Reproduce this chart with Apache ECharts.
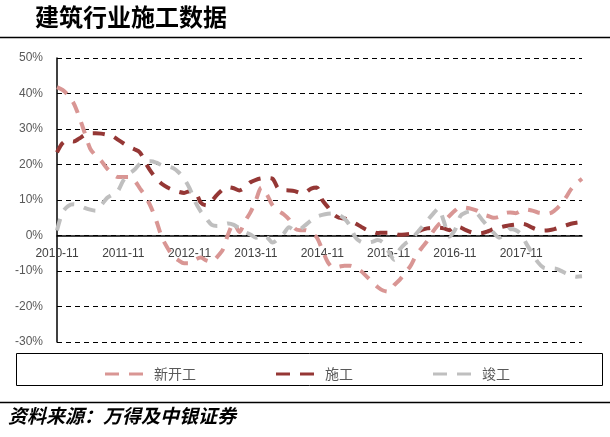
<!DOCTYPE html>
<html><head><meta charset="utf-8">
<script src="https://cdn.jsdelivr.net/npm/echarts@6/dist/echarts.min.js"></script>
<style>html,body{margin:0;padding:0;background:#fff}#c{width:610px;height:437px}</style>
</head><body><div id="c"></div>
<script>
const categories = [
  '2010-11','2010-12',
  '2011-01','2011-02','2011-03','2011-04','2011-05','2011-06','2011-07','2011-08','2011-09','2011-10','2011-11','2011-12',
  '2012-01','2012-02','2012-03','2012-04','2012-05','2012-06','2012-07','2012-08','2012-09','2012-10','2012-11','2012-12',
  '2013-01','2013-02','2013-03','2013-04','2013-05','2013-06','2013-07','2013-08','2013-09','2013-10','2013-11','2013-12',
  '2014-01','2014-02','2014-03','2014-04','2014-05','2014-06','2014-07','2014-08','2014-09','2014-10','2014-11','2014-12',
  '2015-01','2015-02','2015-03','2015-04','2015-05','2015-06','2015-07','2015-08','2015-09','2015-10','2015-11','2015-12',
  '2016-01','2016-02','2016-03','2016-04','2016-05','2016-06','2016-07','2016-08','2016-09','2016-10','2016-11','2016-12',
  '2017-01','2017-02','2017-03','2017-04','2017-05','2017-06','2017-07','2017-08','2017-09','2017-10','2017-11','2017-12',
  '2018-01','2018-02','2018-03','2018-04','2018-05','2018-06','2018-07','2018-08','2018-09','2018-10'
];
const seriesNames = ['新开工', '施工', '竣工'];
const newStarts = [
  41.8, 41, 39.5, 37.3, 33.5, 29, 24.5, 22.5, 21, 19, 17.5, 16.5,
  16.5, 16.5, 15.5, 13.3, 11, 8, 4, -0.6, -3.5, -5.8, -7, -7.8,
  -7.8, -6.8, -6.2, -7, -7.4, -6, -4, 0.5, 3.5, 1, 4, 6.5,
  10, 13.5, 11.5, 8.5, 7, 6, 4.5, 2, 1.5, 1.5, 0.5, -0.5,
  -4, -7.5, -9, -8.8, -8.5, -8.5, -9, -10, -11.5, -13, -14.5, -15.5,
  -15.8, -14, -12.5, -10.5, -8.5, -5.5, -3.5, -1.5, 1, 3, 4, 5.5,
  7, 8, 7.8, 7.5, 7, 6, 5.5, 5, 5.3, 6.3, 6.5, 6.3,
  7, 7.3, 7, 6.5, 6.3, 6.2, 7, 8.5, 10.5, 13, 14.7, 16
];
const underConstruction = [
  23.4, 26, 26.8, 26.5, 27.3, 28.3, 28.8, 28.8, 28.7, 28.4, 28, 27,
  26, 25, 24.3, 23.4, 20.5, 18, 16, 14.5, 13.5, 12.8, 12.3, 12,
  12.5, 12.3, 9.3, 8.5, 9.8, 11.5, 13, 13.6, 13.3, 12.7, 13.5, 15,
  15.7, 16.1, 16.2, 16, 13.3, 12.8, 12.7, 12.5, 12, 12.2, 13.2, 13.5,
  10, 8, 6, 5, 4.8, 4.2, 3.4, 2.5, 1.6, 1.2, 0.7, 0.8,
  0.8, 0.6, 0.2, 0.3, 0.5, 0.9, 1.6, 2, 2.2, 2.2, 2, 1.5,
  2.6, 2.3, 1.5, 0.9, 0.6, 0.7, 1.2, 1.8, 2.2, 2.6, 2.9, 3.1,
  3.3, 3, 2.2, 1.6, 1.4, 1.5, 1.8, 2.3, 2.8, 3.3, 3.6, 3.8
];
const completed = [
  1.4, 6.5, 8.3, 8.8, 8.5, 7.8, 7.3, 7, 8.5, 10.5, 11.5, 12.5,
  15.5, 17.3, 18.5, 20.2, 20.8, 20.9, 20.5, 19.8, 19.5, 19, 17.8, 16,
  13.3, 9.5, 6.8, 4.8, 3, 2.7, 3, 3.4, 3, 2, 1, 0.3,
  -0.6, 0, -0.5, -2, -1, 0.5, 2.3, 1.5, 1.8, 3, 4.3, 5.3,
  5.8, 6.1, 6.2, 5.8, 4.8, 2.8, -0.5, -1.8, -2, -1.8, -1.3, -2,
  -4.5, -6.8, -4, -2.3, -1.4, 0.5, 2.3, 4.2, 6, 7.6, 4, -0.3,
  1.5, 5.5, 6.5, 6.8, 6.2, 4.3, 2.5, 0.8, -0.6, 0.3, 1.8, 1.5,
  0.3, -2.5, -5, -7.5, -9, -9.3, -9.3, -9.8, -10.6, -11.2, -11.6, -11.5
];
const yMin = -30, yMax = 50, yStep = 10;
const colors = ['#D99694', '#953735', '#BFBFBF'];

const gridTop = 58, gridBottom = 95, chartH = 437;
const plotH = chartH - gridTop - gridBottom;
const zeroOffset = -plotH * (0 - yMin) / (yMax - yMin);

const chart = echarts.init(document.getElementById('c'), null, {renderer: 'canvas'});
const lineDash = [12, 10];
const mk = (name, data, color) => ({
  name, type: 'line', data, smooth: 0.3, symbol: 'none', showSymbol: false,
  lineStyle: {color, width: 4, type: lineDash, cap: 'butt'},
  itemStyle: {color},
  emphasis: {disabled: true}
});
const dashIcon = 'path://M0,0H14V3H0ZM24,0H38V3H24Z';
chart.setOption({
  animation: false,
  backgroundColor: '#fff',
  grid: {left: 57, right: 28, top: gridTop, bottom: gridBottom, containLabel: false},
  xAxis: {
    type: 'category', data: categories, boundaryGap: false, position: 'bottom', offset: zeroOffset,
    axisLine: {onZero: false, lineStyle: {color: '#000', width: 1.5}},
    axisTick: {show: false},
    axisLabel: {interval: 11, margin: 12, color: '#404040', fontSize: 12, fontFamily: 'Liberation Sans, Arial, sans-serif'},
    splitLine: {show: false}
  },
  yAxis: {
    type: 'value', min: yMin, max: yMax, interval: yStep,
    axisLine: {show: true, lineStyle: {color: '#000', width: 1.5}},
    axisTick: {show: false},
    axisLabel: {formatter: '{value}%', margin: 14, color: '#595959', fontSize: 12, fontFamily: 'Liberation Sans, Arial, sans-serif'},
    splitLine: {show: true, lineStyle: {color: '#000', width: 1, type: [5, 4]}}
  },
  legend: {
    left: 100, top: 362, itemWidth: 38, itemHeight: 3, itemGap: 80,
    icon: dashIcon,
    data: seriesNames,
    textStyle: {color: '#595959', fontSize: 14, fontFamily: 'Noto Sans CJK SC', padding: [0, 0, 0, 6]}
  },
  series: [
    mk(seriesNames[0], newStarts, colors[0]),
    mk(seriesNames[1], underConstruction, colors[1]),
    mk(seriesNames[2], completed, colors[2])
  ],
  graphic: [
    {type: 'text', left: 35, top: 5, style: {text: '建筑行业施工数据', fill: '#000', font: 'bold 24px "Noto Sans CJK SC"'}},
    {type: 'line', shape: {x1: 0, y1: 37.5, x2: 610, y2: 37.5}, style: {stroke: '#000', lineWidth: 1.5}},
    {type: 'rect', shape: {x: 16.5, y: 353.5, width: 586, height: 32}, style: {fill: 'none', stroke: '#000', lineWidth: 1}},
    {type: 'line', shape: {x1: 0, y1: 402.5, x2: 610, y2: 402.5}, style: {stroke: '#000', lineWidth: 1.5}},
    {type: 'text', left: 8, top: 406, style: {text: '资料来源：万得及中银证券', fill: '#000', font: 'italic bold 19px "Noto Sans CJK SC"'}}
  ]
});
</script></body></html>
